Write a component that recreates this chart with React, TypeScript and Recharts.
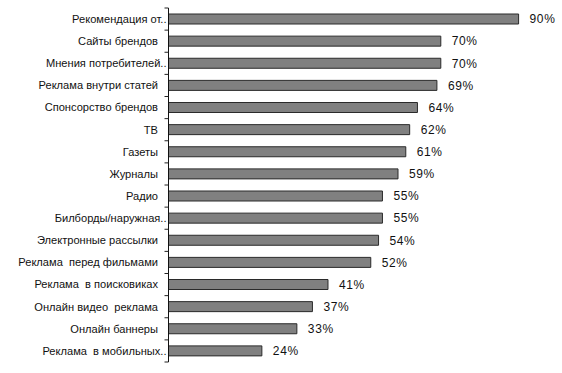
import { BarChart, Bar, XAxis, YAxis, LabelList } from 'recharts'

const channels = [
  'Рекомендация от..',
  'Сайты брендов',
  'Мнения потребителей..',
  'Реклама внутри статей',
  'Спонсорство брендов',
  'ТВ',
  'Газеты',
  'Журналы',
  'Радио',
  'Билборды/наружная..',
  'Электронные рассылки',
  'Реклама  перед фильмами',
  'Реклама  в поисковиках',
  'Онлайн видео  реклама',
  'Онлайн баннеры',
  'Реклама  в мобильных..',
]

const trust = [90, 70, 70, 69, 64, 62, 61, 59, 55, 55, 54, 52, 41, 37, 33, 24]

const data = channels.map((name, i) => ({ name, value: trust[i] }))

const FONT = '"Liberation Sans", Arial, sans-serif'

// excel-style ticks sit between categories, so draw them at band edges
function CategoryTick(props: any) {
  const { x, y, payload, index, visibleTicksCount } = props
  const half = 354 / channels.length / 2
  const label: string = payload.value
  const trimmed = label.endsWith('..')
  return (
    <g>
      <line x1={x + 4} x2={x + 8} y1={y - half} y2={y - half} stroke="#222" />
      {index === visibleTicksCount - 1 && (
        <line x1={x + 4} x2={x + 8} y1={y + half} y2={y + half} stroke="#222" />
      )}
      <text
        x={trimmed ? x + 6 : x - 2.5}
        y={y}
        dy="0.35em"
        textAnchor="end"
        fontSize={11.1}
        fontFamily={FONT}
        fill="#111"
        style={{ whiteSpace: 'pre' }}
      >
        {label}
      </text>
    </g>
  )
}

export default function App() {
  return (
    <div style={{ width: 562, height: 373, background: '#fff' }}>
      <style>{'body{margin:0}'}</style>
      <BarChart
        width={562}
        height={373}
        data={data}
        layout="vertical"
        margin={{ top: 8, right: 4.5, bottom: 11, left: 0 }}
        barSize={10}
      >
        <XAxis type="number" domain={[0, 100]} hide />
        <YAxis
          type="category"
          dataKey="name"
          width={168.5}
          interval={0}
          tickLine={false}
          axisLine={{ stroke: '#111' }}
          tick={<CategoryTick />}
        />
        <Bar dataKey="value" fill="#808080" stroke="#2a2a2a" strokeWidth={1} isAnimationActive={false}>
          <LabelList
            dataKey="value"
            position="right"
            offset={11}
            formatter={(v: any) => `${v}%`}
            style={{ fontSize: 12, fontFamily: FONT, fill: '#111', letterSpacing: 0.6 }}
          />
        </Bar>
      </BarChart>
    </div>
  )
}
